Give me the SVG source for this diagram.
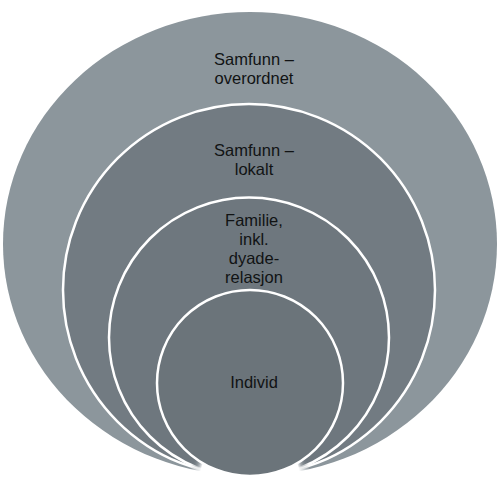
<svg xmlns="http://www.w3.org/2000/svg" width="500" height="488" viewBox="0 0 500 488">
  <style>
    .lbl { font-family: "Liberation Sans", "Open Sans", sans-serif; font-size: 16.5px; fill: #111314; text-anchor: middle; }
    .ring { stroke: #ffffff; stroke-width: 2.5; }
  </style>
  <defs>
    <radialGradient id="fade" gradientUnits="userSpaceOnUse" cx="250" cy="482" r="70">
      <stop offset="0" stop-color="#000"/>
      <stop offset="0.72" stop-color="#000"/>
      <stop offset="0.88" stop-color="#fff"/>
      <stop offset="1" stop-color="#fff"/>
    </radialGradient>
    <mask id="m" maskUnits="userSpaceOnUse" x="0" y="0" width="500" height="488">
      <rect x="0" y="0" width="500" height="488" fill="url(#fade)"/>
    </mask>
  </defs>
  <rect width="500" height="488" fill="#ffffff"/>

  <g id="node-samfunn-overordnet">
    <ellipse cx="250" cy="244" rx="247" ry="232" fill="#8c969c" mask="url(#m)"/>
    <text class="lbl" x="254" y="64.5"><tspan x="254" y="64.5">Samfunn –</tspan><tspan x="254" y="83.5">overordnet</tspan></text>
  </g>
  <g id="node-samfunn-lokalt">
    <circle class="ring" cx="249" cy="290" r="186" fill="#727b82" mask="url(#m)"/>
    <text class="lbl" x="254" y="155.5"><tspan x="254" y="155.5">Samfunn –</tspan><tspan x="254" y="174.5">lokalt</tspan></text>
  </g>
  <g id="node-familie">
    <circle class="ring" cx="249" cy="337.5" r="140" fill="#6e777e" mask="url(#m)"/>
    <text class="lbl" x="254" y="225.5"><tspan x="254" y="225.5">Familie,</tspan><tspan x="254" y="244.5">inkl.</tspan><tspan x="254" y="263.5">dyade-</tspan><tspan x="254" y="282.5">relasjon</tspan></text>
  </g>
  <g id="node-individ">
    <circle class="ring" cx="250" cy="383" r="93" fill="#6b747a"/>
    <text class="lbl" x="254" y="388">Individ</text>
  </g>

  <g id="connectors"></g>
</svg>
